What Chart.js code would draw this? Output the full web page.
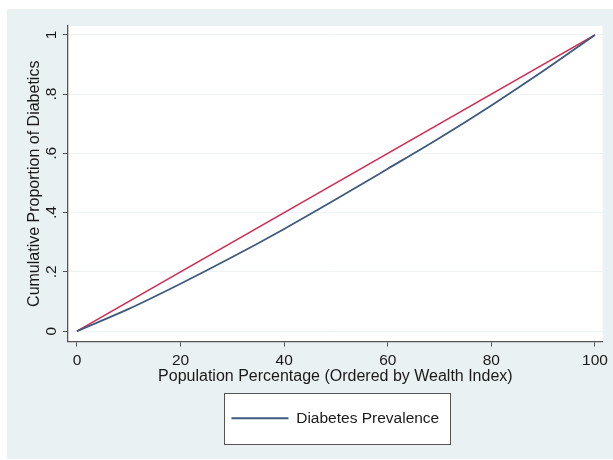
<!DOCTYPE html>
<html>
<head>
<meta charset="utf-8">
<script src="https://cdn.jsdelivr.net/npm/chart.js@4.4.1/dist/chart.umd.min.js"></script>
<style>
  html, body { margin: 0; padding: 0; background: #ffffff; }
  canvas { display: block; }
</style>
</head>
<body>
<canvas id="chart" width="613" height="460"></canvas>
<script>
// Population share (x, percent) ordered by wealth index
const popPct = [0, 10, 20, 30, 40, 50, 60, 70, 80, 90, 100];
// Cumulative proportion of diabetics along the concentration curve
const diabetesCum = [0, 0.075, 0.16, 0.25, 0.345, 0.445, 0.548, 0.652, 0.762, 0.878, 1];
// Line of equality
const equalityPct = [0, 100];
const equalityCum = [0, 1];

const xTickValues = [0, 20, 40, 60, 80, 100];
const yTickValues = [0, 0.2, 0.4, 0.6, 0.8, 1];
const yTickLabels = ['0', '.2', '.4', '.6', '.8', '1'];

const seriesLabel = 'Diabetes Prevalence';
const xTitle = 'Population Percentage (Ordered by Wealth Index)';
const yTitle = 'Cumulative Proportion of Diabetics';

const BLUE = '#3e5b7f';
const RED = '#d3294f';
const AXIS = '#555555';
const TEXT = '#1a1a1a';

Chart.defaults.font.family = '"Liberation Sans", Arial, sans-serif';
Chart.defaults.color = TEXT;

// Outer graph region, white plot region and the framed legend
const frames = {
  id: 'frames',
  beforeDraw(chart) {
    const { ctx, chartArea: a } = chart;
    ctx.save();
    ctx.fillStyle = '#ffffff';
    ctx.fillRect(0, 0, chart.width, chart.height);
    ctx.fillStyle = '#eaf1f2';
    ctx.fillRect(7, 9, chart.width - 7, chart.height - 10);
    ctx.fillStyle = '#ffffff';
    ctx.fillRect(a.left, a.top, a.right - a.left, a.bottom - a.top);
    const hb = chart.legend && chart.legend.legendHitBoxes && chart.legend.legendHitBoxes[0];
    if (hb) {
      const cy = hb.top + hb.height / 2;
      const x0 = Math.round(hb.left - 7) + 0.5;
      const x1 = Math.round(hb.left + hb.width + 11) + 0.5;
      const y0 = Math.round(cy - 25.5) + 0.5;
      const y1 = Math.round(cy + 25.5) + 0.5;
      ctx.fillStyle = '#ffffff';
      ctx.fillRect(x0, y0, x1 - x0, y1 - y0);
      ctx.strokeStyle = AXIS;
      ctx.lineWidth = 1;
      ctx.strokeRect(x0, y0, x1 - x0, y1 - y0);
    }
    ctx.restore();
  }
};

new Chart(document.getElementById('chart'), {
  type: 'scatter',
  data: {
    datasets: [
      {
        label: seriesLabel,
        data: popPct.map((x, i) => ({ x, y: diabetesCum[i] })),
        showLine: true,
        borderColor: BLUE,
        backgroundColor: BLUE,
        borderWidth: 1.8,
        pointRadius: 0,
        cubicInterpolationMode: 'monotone',
        order: 0
      },
      {
        label: 'Equality',
        data: equalityPct.map((x, i) => ({ x, y: equalityCum[i] })),
        showLine: true,
        borderColor: RED,
        backgroundColor: RED,
        borderWidth: 1.6,
        pointRadius: 0,
        order: 1
      }
    ]
  },
  options: {
    responsive: false,
    animation: false,
    devicePixelRatio: 1,
    layout: { padding: { left: 0, top: 26, right: 9, bottom: 24 } },
    plugins: {
      tooltip: { enabled: false },
      legend: {
        position: 'bottom',
        fullSize: false,
        labels: {
          filter: (item) => item.datasetIndex === 0,
          usePointStyle: true,
          pointStyle: 'line',
          pointStyleWidth: 57,
          padding: 24,
          color: TEXT,
          font: { size: 15.5 }
        }
      }
    },
    scales: {
      x: {
        type: 'linear',
        min: -1.73,
        max: 101.5,
        afterBuildTicks: (s) => { s.ticks = xTickValues.map(v => ({ value: v })); },
        afterFit: (s) => { s.height = 45; },
        ticks: { autoSkip: false, maxRotation: 0, padding: 5, color: TEXT, font: { size: 15.5 },
                 callback: (v) => String(v) },
        grid: { drawOnChartArea: false, drawTicks: true, tickLength: 5, tickColor: AXIS, tickWidth: 1 },
        border: { display: true, color: AXIS, width: 1.3 },
        title: { display: true, text: xTitle, color: TEXT, font: { size: 16 }, padding: { top: 0, bottom: 0 } }
      },
      y: {
        type: 'linear',
        min: -0.035,
        max: 1.03,
        afterBuildTicks: (s) => { s.ticks = yTickValues.map(v => ({ value: v })); },
        afterFit: (s) => { s.width = 68; },
        ticks: { autoSkip: false, minRotation: 90, maxRotation: 90, crossAlign: 'center', padding: 5,
                 color: TEXT, font: { size: 15.5 },
                 callback: (v, i) => yTickLabels[i] },
        grid: { color: '#edf3f3', lineWidth: 1, drawTicks: true, tickLength: 5, tickColor: AXIS, tickWidth: 1 },
        border: { display: true, color: AXIS, width: 1.3 },
        title: { display: true, text: yTitle, color: TEXT, font: { size: 16 }, padding: { top: 25, bottom: 0 } }
      }
    }
  },
  plugins: [frames]
});
</script>
</body>
</html>
